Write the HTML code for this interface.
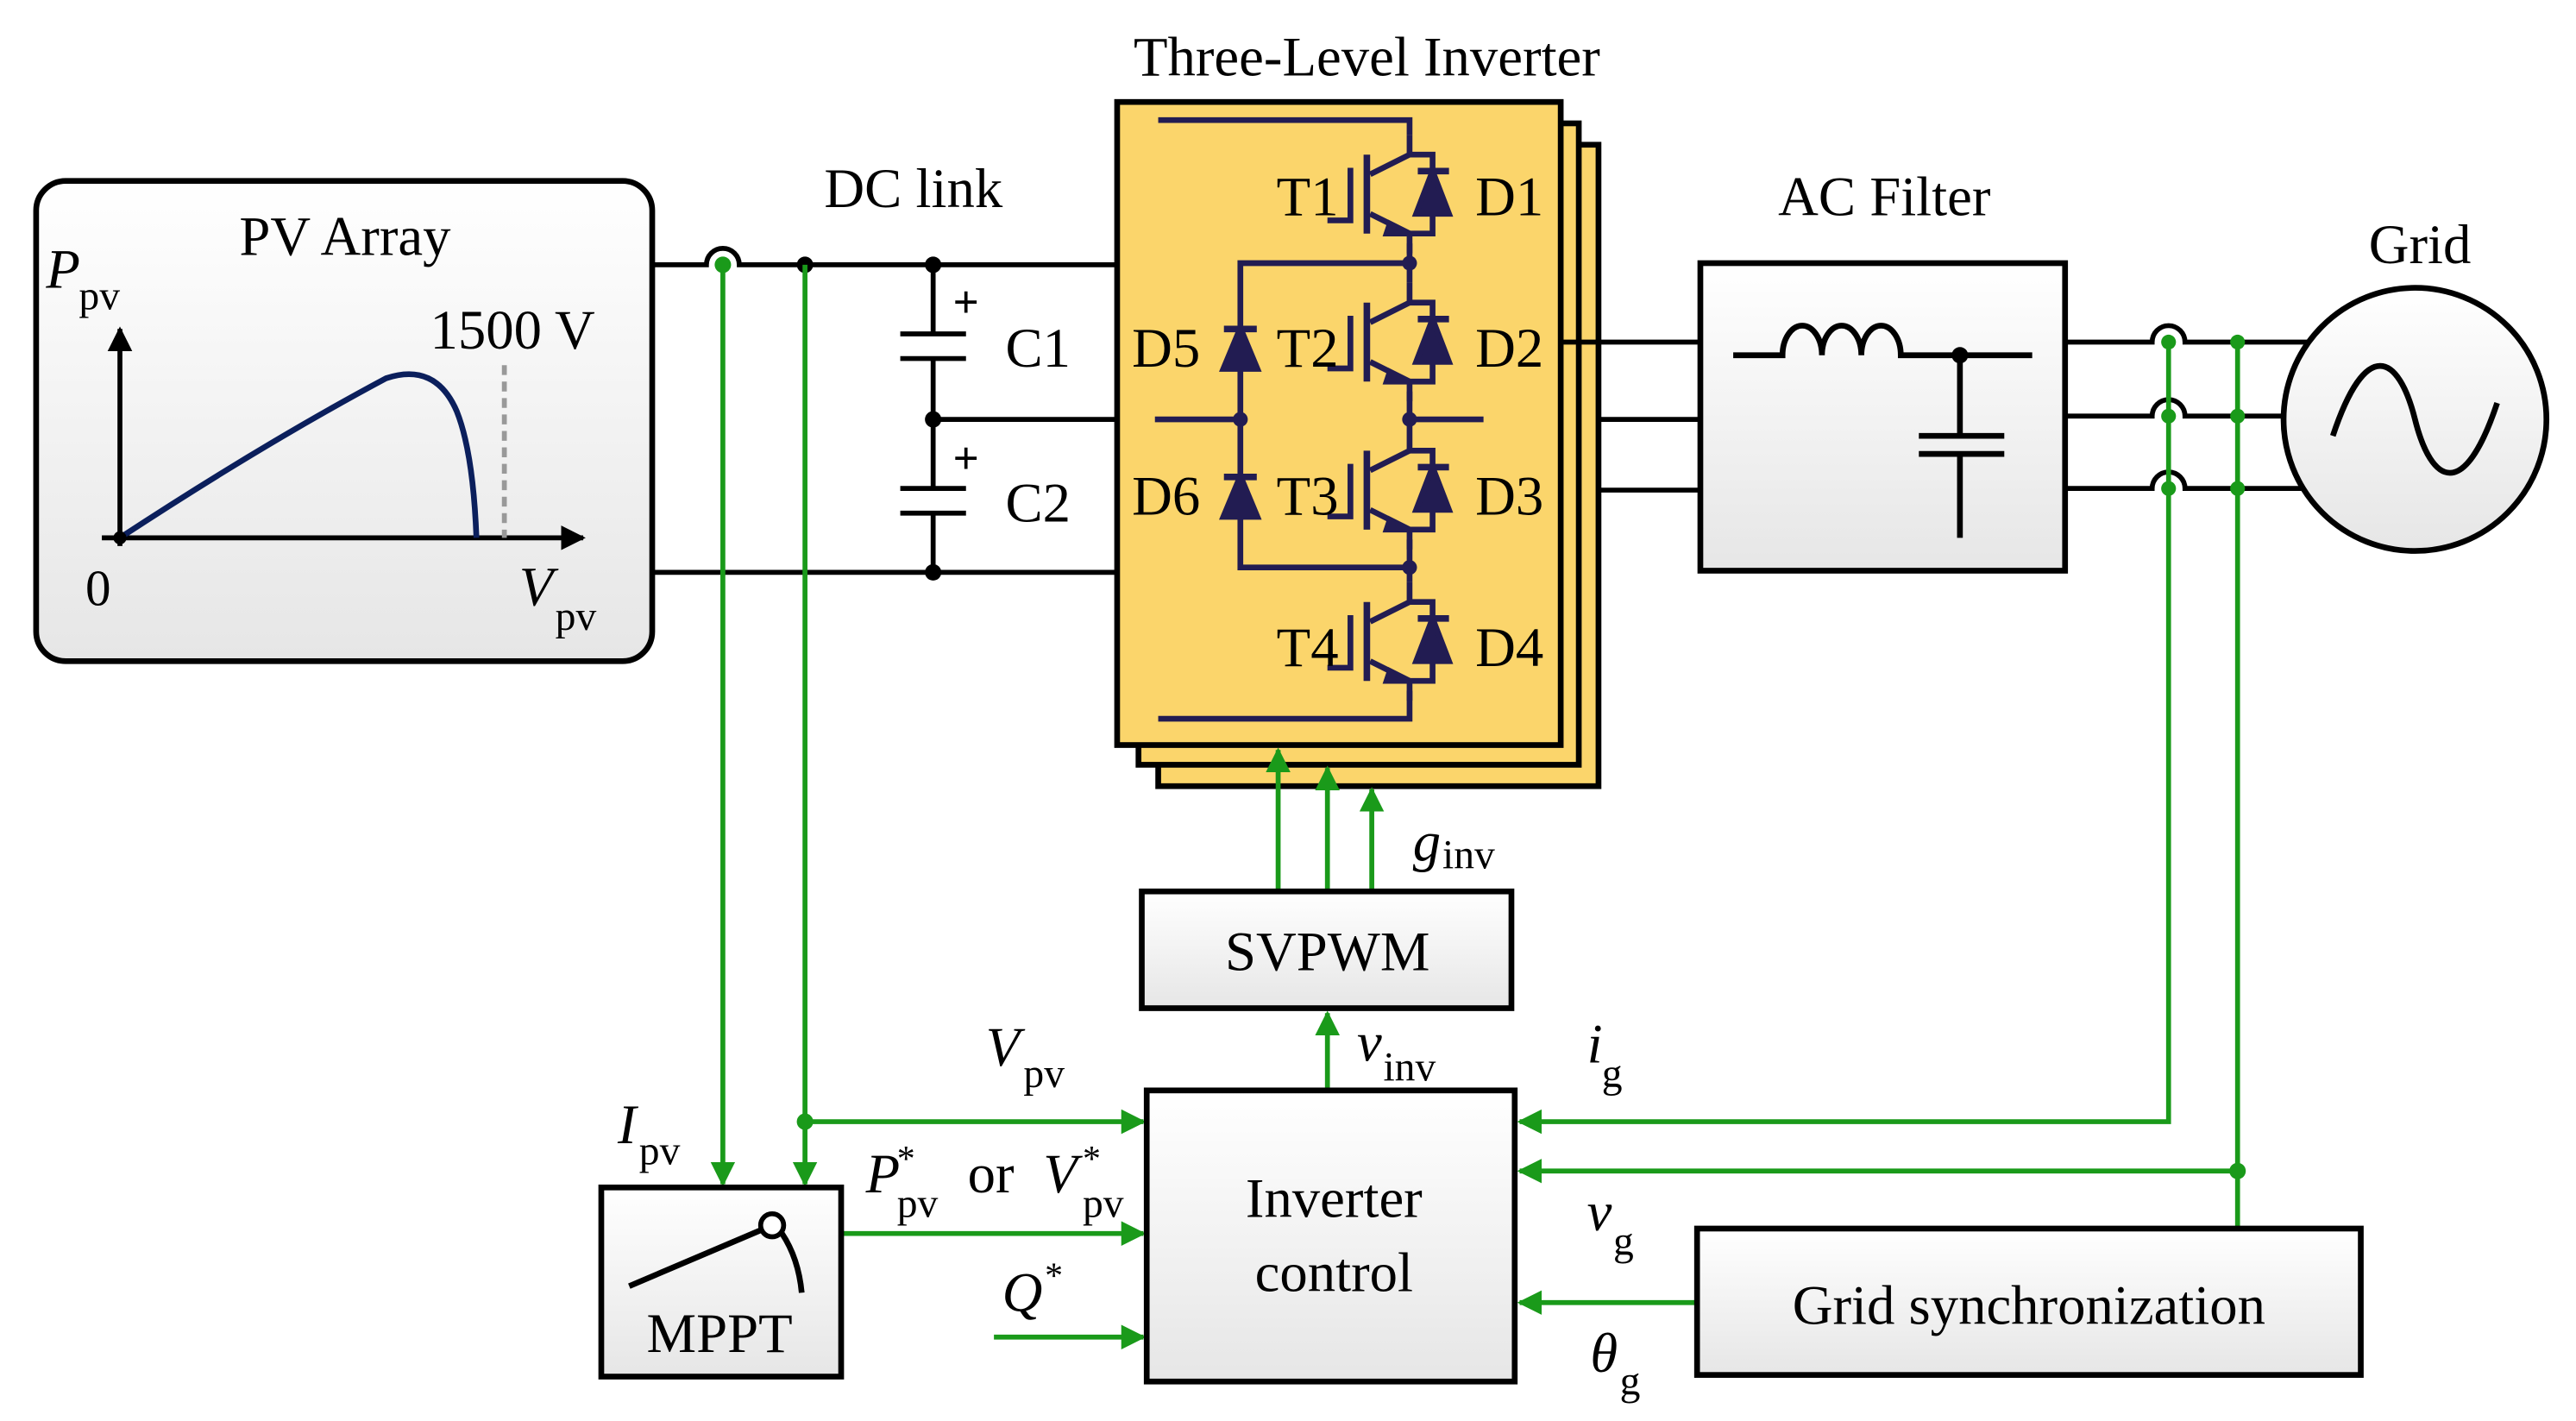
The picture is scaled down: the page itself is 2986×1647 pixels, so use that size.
<!DOCTYPE html>
<html><head><meta charset="utf-8"><style>
html,body{margin:0;padding:0;background:#fff}
svg{display:block}
text{font-family:"Liberation Serif",serif;fill:#000}
</style></head><body>
<svg width="2986" height="1647" viewBox="0 0 1568 864" preserveAspectRatio="none" xmlns="http://www.w3.org/2000/svg">
<defs>
<linearGradient id="gb" x1="0" y1="0" x2="0" y2="1"><stop offset="0" stop-color="#ffffff"/><stop offset="1" stop-color="#e6e6e6"/></linearGradient>
<marker id="ga" viewBox="0 0 10 10" refX="9" refY="5" markerWidth="5" markerHeight="5" orient="auto"><path d="M0,0 L10,5 L0,10 z" fill="#1a9a1a"/></marker>
<marker id="ba" viewBox="0 0 10 10" refX="9" refY="5" markerWidth="5" markerHeight="5" orient="auto"><path d="M0,0 L10,5 L0,10 z" fill="#000"/></marker>
<g id="igbt" stroke="#221c52" stroke-width="3.5" fill="none">
 <path d="M0,-36 V-24 L-24,-12"/>
 <path d="M-26,-24 V24" stroke-width="4"/>
 <path d="M-36,-16 V16 H-50"/>
 <path d="M-24,12 L0,24 V36"/>
 <path d="M-12,18 L0,24 L-14,24 z" fill="#221c52"/>
 <path d="M0,-24 H14 V24 H0"/>
 <path d="M5,-14 H24" stroke-width="4"/>
 <path d="M14,-14 L4,12 H24 z" fill="#221c52"/>
</g>
<g id="diode" stroke="#221c52" stroke-width="4" fill="#221c52">
 <path d="M-10,-12 H10"/>
 <path d="M0,-12 L-10,12 H10 z"/>
</g>
</defs>

<!-- PV Array -->
<rect x="22" y="110" width="375" height="292" rx="18" fill="url(#gb)" stroke="#000" stroke-width="3.5"/>
<text x="210" y="155" font-size="34" text-anchor="middle">PV Array</text>
<line x1="73" y1="332" x2="73" y2="200" stroke="#000" stroke-width="3" marker-end="url(#ba)"/>
<line x1="62" y1="327" x2="355" y2="327" stroke="#000" stroke-width="3" marker-end="url(#ba)"/>
<path d="M73,327 Q160,270 235,230 Q265,220 278,250 Q288,275 290,327" fill="none" stroke="#0b1f5c" stroke-width="3.5"/>
<line x1="307" y1="222" x2="307" y2="327" stroke="#999" stroke-width="3" stroke-dasharray="6,4"/>
<circle cx="73" cy="327" r="4"/>
<text x="312" y="212" font-size="34" text-anchor="middle">1500 V</text>
<text x="28" y="175" font-size="34" font-style="italic">P</text><text x="48" y="188" font-size="25">pv</text>
<text x="52" y="368" font-size="31">0</text>
<text x="316" y="368" font-size="34" font-style="italic">V</text><text x="338" y="383" font-size="25">pv</text>

<!-- DC lines -->
<g stroke="#000" stroke-width="3" fill="none">
<path d="M397,161 H430 A10,10 0 0 1 450,161 H680"/>
<path d="M397,348 H680"/>
<path d="M568,161 V203 M548,203 H588 M548,218 H588 M568,218 V297 M548,297 H588 M548,312 H588 M568,312 V348"/>
<path d="M568,255 H680"/>
</g>
<g fill="#000"><circle cx="490" cy="161" r="5"/><circle cx="568" cy="161" r="5"/><circle cx="568" cy="255" r="5"/><circle cx="568" cy="348" r="5"/></g>
<text x="588" y="193" font-size="28" font-weight="bold" text-anchor="middle">+</text>
<text x="588" y="288" font-size="28" font-weight="bold" text-anchor="middle">+</text>
<text x="612" y="223" font-size="34">C1</text>
<text x="612" y="317" font-size="34">C2</text>
<text x="556" y="126" font-size="34" text-anchor="middle">DC link</text>

<!-- Inverter -->
<text x="832" y="46" font-size="34" text-anchor="middle">Three-Level Inverter</text>
<rect x="705" y="88" width="268" height="390" fill="#fbd56b" stroke="#000" stroke-width="3.5"/>
<rect x="693" y="75" width="268" height="390" fill="#fbd56b" stroke="#000" stroke-width="3.5"/>
<rect x="680" y="62" width="270" height="391" fill="#fbd56b" stroke="#000" stroke-width="3.5"/>
<g stroke="#221c52" stroke-width="3.5" fill="none">
<path d="M705,73 H858 V82"/>
<path d="M858,148 V172"/>
<path d="M858,238 V262"/>
<path d="M858,328 V354"/>
<path d="M858,420 V437 H705"/>
<path d="M858,160 H755 V345 H858"/>
<path d="M703,255 H755 M858,255 H903"/>
</g>
<use href="#igbt" x="858" y="118"/>
<use href="#igbt" x="858" y="208"/>
<use href="#igbt" x="858" y="298"/>
<use href="#igbt" x="858" y="390"/>
<use href="#diode" x="755" y="212"/>
<use href="#diode" x="755" y="302"/>
<g fill="#221c52"><circle cx="858" cy="160" r="4.5"/><circle cx="858" cy="255" r="4.5"/><circle cx="755" cy="255" r="4.5"/><circle cx="858" cy="345" r="4.5"/></g>
<g font-size="34">
<text x="777" y="131">T1</text><text x="898" y="131">D1</text>
<text x="689" y="223">D5</text><text x="777" y="223">T2</text><text x="898" y="223">D2</text>
<text x="689" y="313">D6</text><text x="777" y="313">T3</text><text x="898" y="313">D3</text>
<text x="777" y="405">T4</text><text x="898" y="405">D4</text>
</g>

<!-- AC side -->
<g stroke="#000" stroke-width="3" fill="none">
<path d="M950,208 H1035 M973,255 H1035 M973,298 H1035"/>
</g>
<rect x="1035" y="160" width="222" height="187" fill="url(#gb)" stroke="#000" stroke-width="3.5"/>
<text x="1147" y="131" font-size="34" text-anchor="middle">AC Filter</text>
<g stroke="#000" stroke-width="3.5" fill="none">
<path d="M1055,216 H1085 A12,18 0 0 1 1109,216 A12,18 0 0 1 1133,216 A12,18 0 0 1 1157,216 H1237"/>
<path d="M1193,216 V265 M1168,265 H1220 M1168,276 H1220 M1193,276 V327"/>
</g>
<circle cx="1193" cy="216" r="5"/>
<g stroke="#000" stroke-width="3" fill="none">
<path d="M1257,208 H1310 A10,10 0 0 1 1330,208 H1405"/>
<path d="M1257,253 H1310 A10,10 0 0 1 1330,253 H1392"/>
<path d="M1257,297 H1310 A10,10 0 0 1 1330,297 H1405"/>
</g>
<circle cx="1470" cy="255" r="80" fill="url(#gb)" stroke="#000" stroke-width="3.5"/>
<path d="M1420,265 C1440,205 1460,215 1470,255 C1480,295 1500,305 1520,245" fill="none" stroke="#000" stroke-width="3.5"/>
<text x="1473" y="160" font-size="34" text-anchor="middle">Grid</text>

<!-- Green control lines -->
<g stroke="#1a9a1a" stroke-width="3" fill="none">
<path d="M440,161 V720" marker-end="url(#ga)"/>
<path d="M490,161 V720" marker-end="url(#ga)"/>
<path d="M490,682 H696" marker-end="url(#ga)"/>
<path d="M512,750 H696" marker-end="url(#ga)"/>
<path d="M605,813 H696" marker-end="url(#ga)"/>
<path d="M808,663 V616" marker-end="url(#ga)"/>
<path d="M778,542 V456" marker-end="url(#ga)"/>
<path d="M808,542 V467" marker-end="url(#ga)"/>
<path d="M835,542 V480" marker-end="url(#ga)"/>
<path d="M1320,208 V682 H925" marker-end="url(#ga)"/>
<path d="M1362,208 V747"/>
<path d="M1362,712 H925" marker-end="url(#ga)"/>
<path d="M1033,792 H925" marker-end="url(#ga)"/>
</g>
<g fill="#1a9a1a">
<circle cx="440" cy="161" r="5"/><circle cx="490" cy="682" r="5"/>
<circle cx="1320" cy="208" r="4.5"/><circle cx="1362" cy="208" r="4.5"/>
<circle cx="1320" cy="253" r="4.5"/><circle cx="1362" cy="253" r="4.5"/>
<circle cx="1320" cy="297" r="4.5"/><circle cx="1362" cy="297" r="4.5"/>
<circle cx="1362" cy="712" r="5"/>
</g>

<!-- Boxes -->
<rect x="695" y="542" width="225" height="71" fill="url(#gb)" stroke="#000" stroke-width="3.5"/>
<text x="808" y="590" font-size="34" text-anchor="middle">SVPWM</text>
<rect x="698" y="663" width="224" height="177" fill="url(#gb)" stroke="#000" stroke-width="3.5"/>
<text x="812" y="740" font-size="34" text-anchor="middle">Inverter</text>
<text x="812" y="785" font-size="34" text-anchor="middle">control</text>
<rect x="366" y="722" width="146" height="115" fill="url(#gb)" stroke="#000" stroke-width="3.5"/>
<path d="M383,782 L463,748" stroke="#000" stroke-width="3.5"/>
<circle cx="470" cy="745" r="7" fill="#fff" stroke="#000" stroke-width="3"/>
<path d="M476,750 Q486,765 488,786" fill="none" stroke="#000" stroke-width="3.5"/>
<text x="438" y="822" font-size="34" text-anchor="middle">MPPT</text>
<rect x="1033" y="747" width="404" height="89" fill="url(#gb)" stroke="#000" stroke-width="3.5"/>
<text x="1235" y="805" font-size="34" text-anchor="middle">Grid synchronization</text>

<!-- Labels -->
<g font-size="34">
<text x="860" y="523" font-style="italic">g</text><text x="878" y="528" font-size="25">inv</text>
<text x="600" y="648" font-style="italic">V</text><text x="623" y="661" font-size="25">pv</text>
<text x="826" y="645" font-style="italic">v</text><text x="842" y="657" font-size="25">inv</text>
<text x="966" y="646" font-style="italic">i</text><text x="975" y="661" font-size="25">g</text>
<text x="376" y="695" font-style="italic">I</text><text x="389" y="708" font-size="25">pv</text>
<text x="527" y="725" font-style="italic">P</text><text x="546" y="712" font-size="22">*</text><text x="546" y="740" font-size="25">pv</text>
<text x="589" y="725">or</text>
<text x="635" y="725" font-style="italic">V</text><text x="659" y="712" font-size="22">*</text><text x="659" y="740" font-size="25">pv</text>
<text x="610" y="797" font-style="italic">Q</text><text x="636" y="783" font-size="22">*</text>
<text x="966" y="748" font-style="italic">v</text><text x="982" y="763" font-size="25">g</text>
<text x="968" y="834" font-style="italic">θ</text><text x="986" y="848" font-size="25">g</text>
</g>
</svg>
</body></html>
